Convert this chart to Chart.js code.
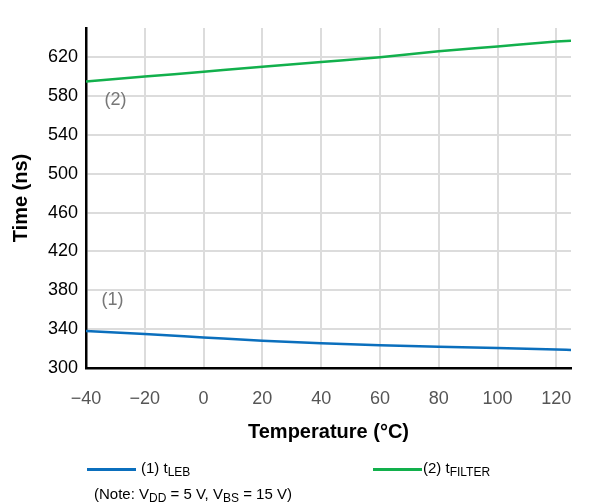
<!DOCTYPE html>
<html>
<head>
    <title>Time vs Temperature</title>
    <script src="https://cdn.jsdelivr.net/npm/chart.js@4"></script>
    <style>
        body { margin: 0; background: #fff; font-family: "Liberation Sans", Arial, sans-serif; }
        #wrap { position: relative; width: 612px; height: 504px; }
        .leg { position: absolute; font-size: 15px; color: #000; white-space: nowrap; }
        .leg .swatch { display: inline-block; width: 49px; height: 0; border-top: 3px solid; vertical-align: middle; margin-right: 5px; }
        sub { font-size: 12px; vertical-align: -3px; line-height: 0; }
    </style>
</head>
<body>
<div id="wrap">
    <canvas id="chart" width="612" height="504"></canvas>
    <div class="leg" style="left:87px; top:459px;"><span class="swatch" style="border-color:#0b6fbd"></span>(1) t<sub>LEB</sub></div>
    <div class="leg" style="left:373px; top:459px;"><span class="swatch" style="border-color:#12b04c; margin-right:1px"></span>(2) t<sub>FILTER</sub></div>
    <div class="leg" style="left:94px; top:485px;">(Note: V<sub>DD</sub> = 5 V, V<sub>BS</sub> = 15 V)</div>
</div>
<script>
    // temperature in °C
    const temps = [-40, -20, 0, 20, 40, 60, 80, 100, 120, 125];
    // (1) tLEB, ns
    const tLEB = [338, 335, 331.5, 328, 325.5, 323.5, 322, 320.5, 319, 318.5];
    // (2) tFILTER, ns
    const tFILTER = [595, 600, 605, 610, 615, 620, 626, 631, 636, 637];

    const xTicks = [-40, -20, 0, 20, 40, 60, 80, 100, 120];
    const yTicks = [300, 340, 380, 420, 460, 500, 540, 580, 620];

    const notes = [
        { text: '(1)', x: -31, y: 370 },
        { text: '(2)', x: -30, y: 576 }
    ];

    const toPoints = (ys) => temps.map((t, i) => ({ x: t, y: ys[i] }));
    const font = (size, weight) => ({ family: '"Liberation Sans", Arial, sans-serif', size: size, weight: weight || 'normal' });

    const notePlugin = {
        id: 'notes',
        afterDatasetsDraw(chart) {
            const ctx = chart.ctx;
            ctx.save();
            ctx.font = '18px "Liberation Sans", Arial, sans-serif';
            ctx.fillStyle = '#777';
            ctx.textAlign = 'center';
            ctx.textBaseline = 'middle';
            notes.forEach(n => {
                ctx.fillText(n.text, chart.scales.x.getPixelForValue(n.x), chart.scales.y.getPixelForValue(n.y));
            });
            ctx.restore();
        }
    };

    new Chart(document.getElementById('chart'), {
        type: 'line',
        data: {
            datasets: [
                { label: '(1) tLEB', data: toPoints(tLEB), borderColor: '#0b6fbd', borderWidth: 2.5, pointRadius: 0, tension: 0.4, cubicInterpolationMode: 'monotone' },
                { label: '(2) tFILTER', data: toPoints(tFILTER), borderColor: '#12b04c', borderWidth: 2.5, pointRadius: 0, tension: 0.4, cubicInterpolationMode: 'monotone' }
            ]
        },
        options: {
            responsive: false,
            animation: false,
            layout: { padding: { left: 0, right: 41, top: 28, bottom: 60 } },
            plugins: { legend: { display: false }, tooltip: { enabled: false } },
            scales: {
                x: {
                    type: 'linear',
                    min: -40,
                    max: 125,
                    afterFit: s => { s.height = 76; },
                    afterBuildTicks: s => { s.ticks = xTicks.map(v => ({ value: v })); },
                    ticks: {
                        padding: 20,
                        color: '#555',
                        font: font(18),
                        callback: v => String(v).replace('-', '\u2212')
                    },
                    grid: { color: '#dcdcdc', lineWidth: 2, drawTicks: false },
                    border: { color: '#000', width: 2.5 },
                    title: {
                        display: true,
                        text: 'Temperature (°C)',
                        color: '#000',
                        font: font(20, 'bold'),
                        padding: { top: 0, bottom: 0 }
                    }
                },
                y: {
                    min: 300,
                    max: 650,
                    afterFit: s => { s.width = 86; },
                    afterBuildTicks: s => { s.ticks = yTicks.map(v => ({ value: v })); },
                    ticks: {
                        padding: 8,
                        color: '#000',
                        font: font(18)
                    },
                    grid: { color: '#dcdcdc', lineWidth: 2, drawTicks: false },
                    border: { color: '#000', width: 2.5 },
                    title: {
                        display: true,
                        text: 'Time (ns)',
                        color: '#000',
                        font: font(20, 'bold'),
                        padding: { top: 9, bottom: 0 }
                    }
                }
            }
        },
        plugins: [notePlugin]
    });
</script>
</body>
</html>
